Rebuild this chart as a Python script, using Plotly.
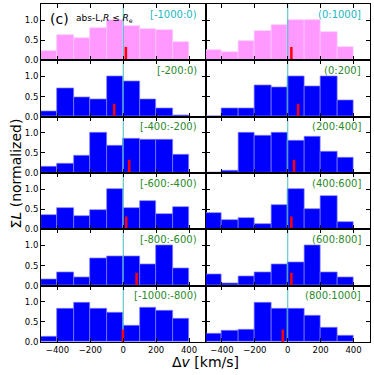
import plotly.graph_objects as go
from plotly.subplots import make_subplots

# bin centres (bins of 100 km/s from -500 to 400)
bin_centers = [-450, -350, -250, -150, -50, 50, 150, 250, 350]

labels_left = ["[-1000:0)", "[-200:0)", "[-400:-200)", "[-600:-400)", "[-800:-600)", "[-1000:-800)"]
labels_right = ["(0:1000]", "(0:200]", "(200:400]", "(400:600]", "(600:800]", "(800:1000]"]

hist_left = [
    [0.22, 0.62, 0.56, 0.81, 1.00, 0.86, 0.78, 0.75, 0.46],
    [0.14, 0.71, 0.47, 0.44, 1.00, 0.88, 0.42, 0.21, 0.03],
    [0.15, 0.22, 0.44, 1.00, 0.67, 0.85, 0.82, 0.83, 0.46],
    [0.35, 0.52, 0.33, 0.47, 1.00, 0.52, 0.71, 0.39, 0.55],
    [0.16, 0.32, 0.21, 0.68, 0.72, 0.74, 0.54, 1.00, 0.43],
    [0.13, 0.82, 0.98, 0.84, 0.74, 0.40, 0.86, 0.79, 0.57],
]
hist_right = [
    [0.26, 0.21, 0.47, 0.74, 0.88, 1.00, 1.00, 0.70, 0.32],
    [0.02, 0.21, 0.21, 0.77, 0.72, 1.00, 0.76, 1.00, 0.41],
    [0.02, 0.07, 1.00, 0.94, 1.00, 0.80, 0.90, 0.52, 0.38],
    [0.40, 0.23, 0.29, 0.13, 0.60, 1.00, 0.50, 0.82, 0.18],
    [0.27, 0.06, 0.23, 0.33, 0.54, 0.57, 1.00, 0.32, 0.21],
    [0.21, 0.29, 0.31, 0.98, 0.82, 0.82, 0.65, 0.35, 0.15],
]

# mean offsets (red markers) and their heights
mean_left = [16, -55, 36, 18, 81, -2]
mean_right = [22, 63, 38, 22, 22, -30]
mean_h_left = [0.33, 0.32, 0.33, 0.32, 0.32, 0.31]
mean_h_right = [0.33, 0.32, 0.33, 0.32, 0.32, 0.31]

x_ticks = [-400, -200, 0, 200, 400]
y_ticks = [0.0, 0.5, 1.0]

fig = make_subplots(rows=6, cols=2, shared_xaxes=True, shared_yaxes=True,
                    horizontal_spacing=0, vertical_spacing=0)

for r in range(6):
    for c, (hists, means, mh, labels) in enumerate(
            [(hist_left, mean_left, mean_h_left, labels_left),
             (hist_right, mean_right, mean_h_right, labels_right)]):
        if r == 0:
            fill, edge = "#ff99ff", "#ffc8ff"
        else:
            fill, edge = "#0000ff", "#8080ff"
        fig.add_trace(go.Bar(x=bin_centers, y=hists[r], width=100,
                             marker=dict(color=fill, line=dict(color=edge, width=0.7)),
                             showlegend=False, hoverinfo="skip"),
                      row=r + 1, col=c + 1)
        fig.add_trace(go.Scatter(x=[0, 0], y=[0, 1.4], mode="lines",
                                 line=dict(color="#40bfc6", width=1),
                                 showlegend=False, hoverinfo="skip"),
                      row=r + 1, col=c + 1)
        fig.add_trace(go.Scatter(x=[means[r], means[r]], y=[0, mh[r]], mode="lines",
                                 line=dict(color="#ff0000", width=2.5),
                                 showlegend=False, hoverinfo="skip"),
                      row=r + 1, col=c + 1)
        fig.add_annotation(text=labels[r], xref="x domain", yref="y domain",
                           x=0.96, y=0.95, xanchor="right", yanchor="top",
                           showarrow=False,
                           font=dict(size=10, color="#20b8c0" if r == 0 else "#2a8a2a"),
                           row=r + 1, col=c + 1)

fig.add_annotation(text="(c)", xref="paper", yref="paper", x=0.02, y=0.985,
                   xanchor="left", yanchor="top", showarrow=False,
                   font=dict(size=14, color="black"))
fig.add_annotation(text="abs-L,<i>R</i> ≤ <i>R</i><sub>e</sub>", xref="paper", yref="paper",
                   x=0.1, y=0.98, xanchor="left", yanchor="top", showarrow=False,
                   font=dict(size=9, color="black"))

fig.update_xaxes(range=[-500, 500], tickvals=x_ticks, ticks="inside", ticklen=4,
                 showline=True, mirror="ticks", linecolor="black", linewidth=1,
                 tickcolor="black", showgrid=False, zeroline=False,
                 tickfont=dict(size=8.5, color="black"))
fig.update_yaxes(range=[0, 1.4], tickvals=y_ticks, tickformat=".1f", ticks="inside",
                 ticklen=4, showline=True, mirror="ticks", linecolor="black",
                 linewidth=1, tickcolor="black", showgrid=False, zeroline=False,
                 tickfont=dict(size=8.5, color="black"))

fig.add_annotation(text="Σ<i>L</i> (normalized)", xref="paper", yref="paper",
                   x=-0.105, y=0.5, textangle=-90, showarrow=False,
                   font=dict(size=14, color="black"))
fig.add_annotation(text="Δ<i>v</i> [km/s]", xref="paper", yref="paper",
                   x=0.5, y=-0.059, yanchor="middle", showarrow=False,
                   font=dict(size=14, color="black"))

fig.update_layout(width=374, height=375, barmode="overlay", bargap=0,
                  plot_bgcolor="white", paper_bgcolor="white",
                  font=dict(family="DejaVu Sans"),
                  margin=dict(l=41, r=4, t=4, b=33))

fig.write_html("out.html", config={"displayModeBar": False},
               post_script="document.body.style.margin='0';document.body.style.overflow='hidden';")
